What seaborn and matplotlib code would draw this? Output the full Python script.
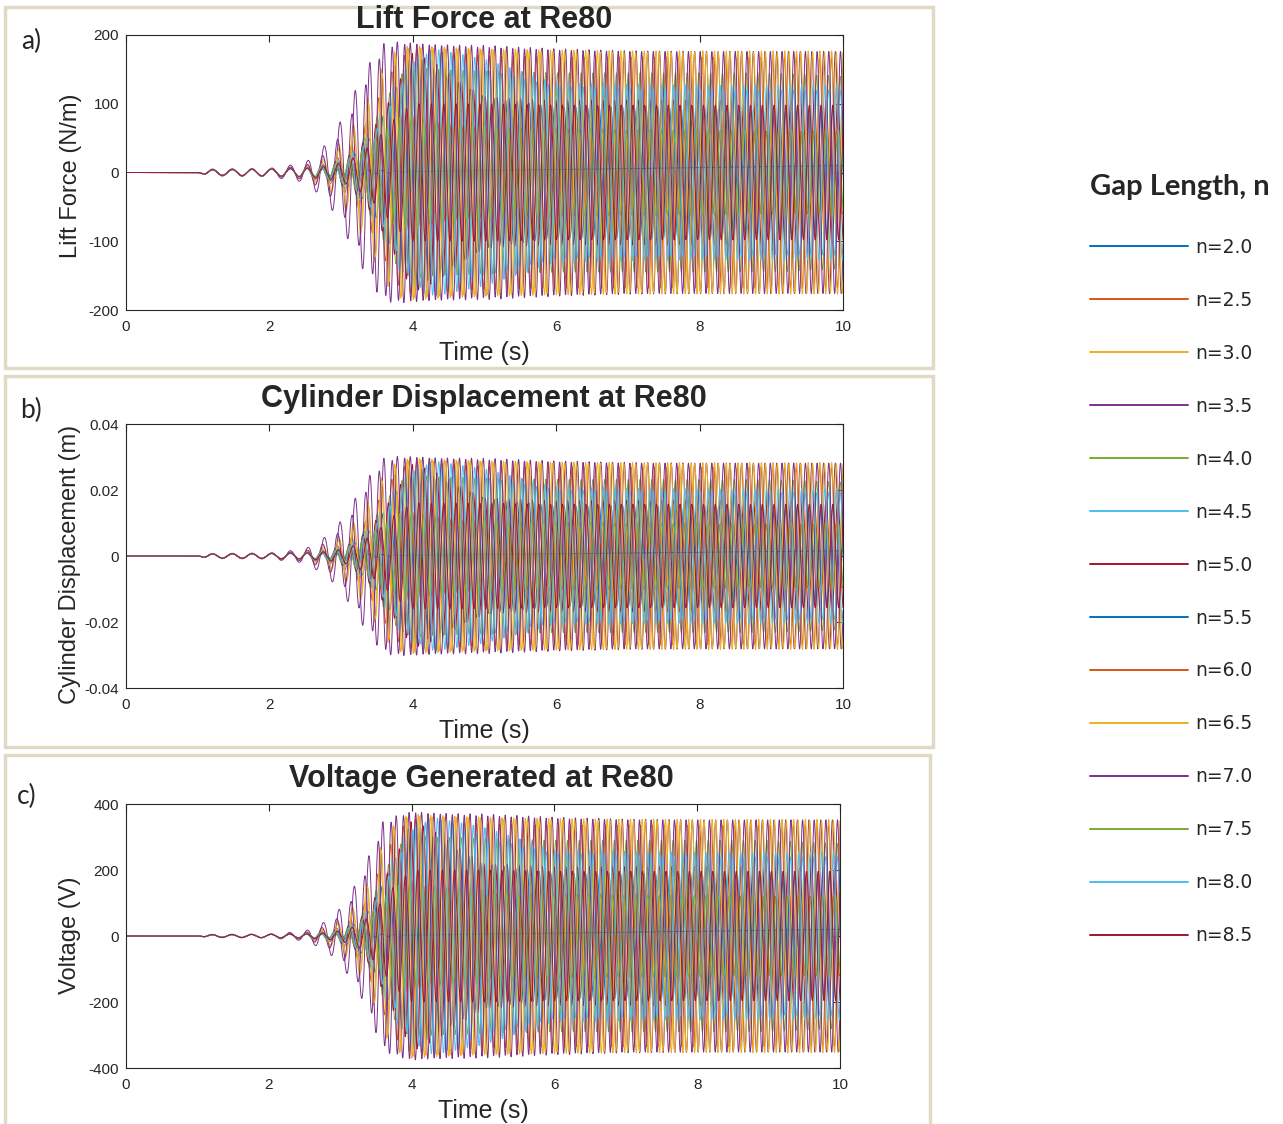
import numpy as np
import pandas as pd
import matplotlib
matplotlib.use("Agg")
import matplotlib.pyplot as plt
from matplotlib.patches import Rectangle
from matplotlib.lines import Line2D
import seaborn as sns

sns.set_style("white")
plt.rcParams['font.family'] = ['Liberation Sans', 'DejaVu Sans']

# ---------------- data ----------------
gap_labels = ['n=2.0', 'n=2.5', 'n=3.0', 'n=3.5', 'n=4.0', 'n=4.5', 'n=5.0',
              'n=5.5', 'n=6.0', 'n=6.5', 'n=7.0', 'n=7.5', 'n=8.0', 'n=8.5']
gap_colors = ['#0072BD', '#D95319', '#EDB120', '#7E2F8E', '#77AC30', '#4DBEEE', '#A2142F',
              '#0072BD', '#D95319', '#EDB120', '#7E2F8E', '#77AC30', '#4DBEEE', '#A2142F']

# oscillation frequency (Hz) read from peak spacing
freq_t = [0.0, 2.0, 2.4, 2.8, 3.2, 3.6, 4.0, 5.0, 10.0]
freq_hz = [3.6, 3.65, 4.1, 4.5, 4.8, 5.2, 5.7, 6.1, 6.12]
# small per-curve detuning (Hz) once the curves have separated
detune_hz = [0.02, -0.03, 0.01, 0.0, -0.02, 0.03, -0.01, 0.0, 0.04, -0.04, 0.015, -0.025, 0.035, -0.015]

# lift force amplitude envelope (N/m) per gap length
env_t = [0.0, 1.0, 1.15, 2.0, 2.5, 2.8, 3.0, 3.2, 3.4, 3.6, 3.8, 4.0, 4.3, 5.0, 6.0, 7.0, 8.0, 9.0, 10.0]
env_n20 = [0, 0, 4, 5, 7, 10, 16, 28, 50, 85, 130, 175, 150, 110, 95, 95, 95, 95, 95]
env_n25 = [0, 0, 4, 5, 8, 14, 25, 45, 80, 125, 165, 178, 175, 170, 168, 168, 168, 168, 168]
env_n30 = [0, 0, 4, 5, 9, 22, 45, 75, 115, 160, 182, 185, 183, 180, 178, 177, 177, 177, 177]
env_n35 = [0, 0, 5, 6, 14, 42, 76, 120, 160, 188, 190, 188, 186, 185, 180, 177, 176, 176, 176]
env_n40 = [0, 0, 4, 5, 7, 12, 20, 35, 62, 100, 140, 155, 150, 148, 145, 145, 145, 145, 140]
env_n45 = [0, 0, 4, 5, 7, 11, 18, 32, 58, 95, 140, 170, 180, 150, 125, 122, 120, 120, 120]
env_n50 = [0, 0, 4, 5, 7, 11, 18, 30, 55, 90, 130, 175, 160, 110, 105, 105, 105, 105, 105]
env_n55 = [0, 0, 4, 5, 6, 6, 5, 4, 3, 2, 1, 0.5, 0.3, 0.2, 0.2, 0.2, 0.2, 0.2, 0.2]
env_n60 = [0, 0, 4, 5, 7, 10, 16, 26, 45, 70, 90, 85, 75, 65, 62, 60, 60, 60, 60]
env_n65 = [0, 0, 4, 5, 8, 18, 38, 65, 105, 150, 178, 182, 180, 178, 176, 175, 175, 175, 175]
env_n70 = [0, 0, 4, 5, 10, 28, 55, 95, 140, 178, 186, 187, 185, 182, 178, 176, 176, 176, 176]
env_n75 = [0, 0, 4, 5, 6, 9, 14, 24, 42, 65, 80, 80, 75, 70, 65, 62, 62, 62, 62]
env_n80 = [0, 0, 4, 5, 6, 9, 15, 27, 48, 80, 120, 160, 180, 165, 130, 128, 127, 127, 127]
env_n85 = [0, 0, 4, 5, 6, 9, 14, 22, 38, 60, 85, 100, 100, 100, 98, 98, 98, 98, 98]
envelopes = [env_n20, env_n25, env_n30, env_n35, env_n40, env_n45, env_n50,
             env_n55, env_n60, env_n65, env_n70, env_n75, env_n80, env_n85]

# phase spread (rad) the curves settle into after the onset
phase_offsets = [0.4, 3.3, 1.6, 0.0, 4.6, 2.4, 5.4, 0.8, 3.9, 1.2, 2.9, 5.9, 4.2, 2.0]
spread_t = [0.0, 2.4, 4.0, 10.0]
spread_w = [0.0, 0.0, 1.0, 1.0]

# slow drift of the non-oscillating curve (N/m)
drift_t = [0.0, 3.0, 10.0]
drift_n55 = [0.0, 0.0, 10.0]

# conversion lift -> displacement / voltage, read by comparing panels
scale_t = [0.0, 2.5, 3.0, 3.3, 3.6, 4.0, 10.0]
scale_lift = [1.0, 1.0, 1.0, 1.0, 1.0, 1.0, 1.0]
scale_disp = [0.00016, 0.00015, 0.00014, 0.00015, 0.000158, 0.00016, 0.00016]
scale_volt = [1.0, 1.0, 1.1, 1.35, 1.85, 2.0, 2.0]

panel_titles = ['Lift Force at Re80', 'Cylinder Displacement at Re80', 'Voltage Generated at Re80']
panel_tags = ['a)', 'b)', 'c)']
panel_ylabels = ['Lift Force (N/m)', 'Cylinder Displacement (m)', 'Voltage (V)']
ytick_vals = [[-200, -100, 0, 100, 200], [-0.04, -0.02, 0, 0.02, 0.04], [-400, -200, 0, 200, 400]]
ytick_text = [['-200', '-100', '0', '100', '200'], ['-0.04', '-0.02', '0', '0.02', '0.04'],
              ['-400', '-200', '0', '200', '400']]
xtick_vals = [0, 2, 4, 6, 8, 10]

# ---------------- build curves ----------------
t = np.linspace(0, 10, 4001)
dt = t[1] - t[0]
phase = 2 * np.pi * np.cumsum(np.interp(t, freq_t, freq_hz)) * dt
phase = phase - np.interp(1.0, t, phase)
spread = np.interp(t, spread_t, spread_w)
late_time = np.cumsum(spread) * dt

lift_curves = []
for i, lab in enumerate(gap_labels):
    env = np.interp(t, env_t, envelopes[i])
    ph = phase + phase_offsets[i] * spread + 2 * np.pi * detune_hz[i] * late_time
    y = -env * np.sin(ph)
    if lab == 'n=5.5':
        y = y + np.interp(t, drift_t, drift_n55)
    lift_curves.append(y)

panel_scales = [scale_lift, scale_disp, scale_volt]

# ---------------- figure ----------------
W, H = 1283, 1124
fig = plt.figure(figsize=(W / 100, H / 100), dpi=100)


def rect(l, tp, r, b):
    return [l / W, 1 - b / H, (r - l) / W, (b - tp) / H]


def fp(x, y):
    return x / W, 1 - y / H


axes_px = [(126, 35, 843, 310), (126, 424, 843, 688), (126, 804, 840, 1068)]
boxes_px = [(5, 7, 933, 368), (5, 376, 933, 747), (5, 755, 930, 1140)]
title_px = [(484, 20), (484, 399), (481, 779)]
tag_px = [(31, 41), (31, 410), (27, 796)]
ylab_px = [(71, 176), (70, 564), (70, 935)]
xlab_px = [(484, 353), (484, 731), (483, 1111)]

for (l, tp, r, b) in boxes_px:
    fig.add_artist(Rectangle((l / W, 1 - b / H), (r - l) / W, (b - tp) / H,
                             transform=fig.transFigure, fill=False,
                             edgecolor='#dedac6', lw=2.5))

ink = '#262626'
for p in range(3):
    ax = fig.add_axes(rect(*axes_px[p]))
    sc = np.interp(t, scale_t, panel_scales[p])
    df = pd.concat([pd.DataFrame({'time': t, 'value': lift_curves[i] * sc, 'gap': lab})
                    for i, lab in enumerate(gap_labels)], ignore_index=True)
    sns.lineplot(data=df, x='time', y='value', hue='gap', hue_order=gap_labels,
                 palette=dict(zip(gap_labels, gap_colors)), estimator=None, sort=False,
                 lw=0.7, legend=False, ax=ax)
    ax.set_xlim(0, 10)
    ax.set_ylim(ytick_vals[p][0], ytick_vals[p][-1])
    ax.set_xticks(xtick_vals)
    ax.set_xticklabels([str(v) for v in xtick_vals])
    ax.set_yticks(ytick_vals[p])
    ax.set_yticklabels(ytick_text[p])
    ax.set_xlabel('')
    ax.set_ylabel('')
    ax.tick_params(direction='in', length=5, width=0.8, colors=ink, labelsize=11,
                   top=True, right=True)
    ax.tick_params(axis='x', pad=7)
    ax.tick_params(axis='y', pad=5)
    for s in ax.spines.values():
        s.set_color(ink)
        s.set_linewidth(0.8)
    fig.text(*fp(*title_px[p]), panel_titles[p], ha='center', va='center',
             fontsize=22, fontweight='bold')
    fig.text(*fp(*tag_px[p]), panel_tags[p], ha='center', va='center',
             fontsize=19, family=['Lato', 'DejaVu Sans'])
    fig.text(*fp(*ylab_px[p]), panel_ylabels[p], ha='center', va='center',
             rotation=90, fontsize=17)
    fig.text(*fp(*xlab_px[p]), 'Time (s)', ha='center', va='center', fontsize=18)

# legend on the right
fig.text(*fp(1090, 187), 'Gap Length, n', ha='left', va='center',
         fontsize=21, fontweight='bold', family=['Lato', 'DejaVu Sans'])
handles = [Line2D([], [], color=c, lw=1.4) for c in gap_colors]
fig.legend(handles, gap_labels, loc='upper left', bbox_to_anchor=fp(1090, 238),
           frameon=False, borderpad=0, borderaxespad=0, handlelength=5.2,
           handletextpad=0.4, labelspacing=1.81,
           prop={'family': 'DejaVu Sans', 'size': 13.5})

fig.savefig('out.png', dpi=100)
